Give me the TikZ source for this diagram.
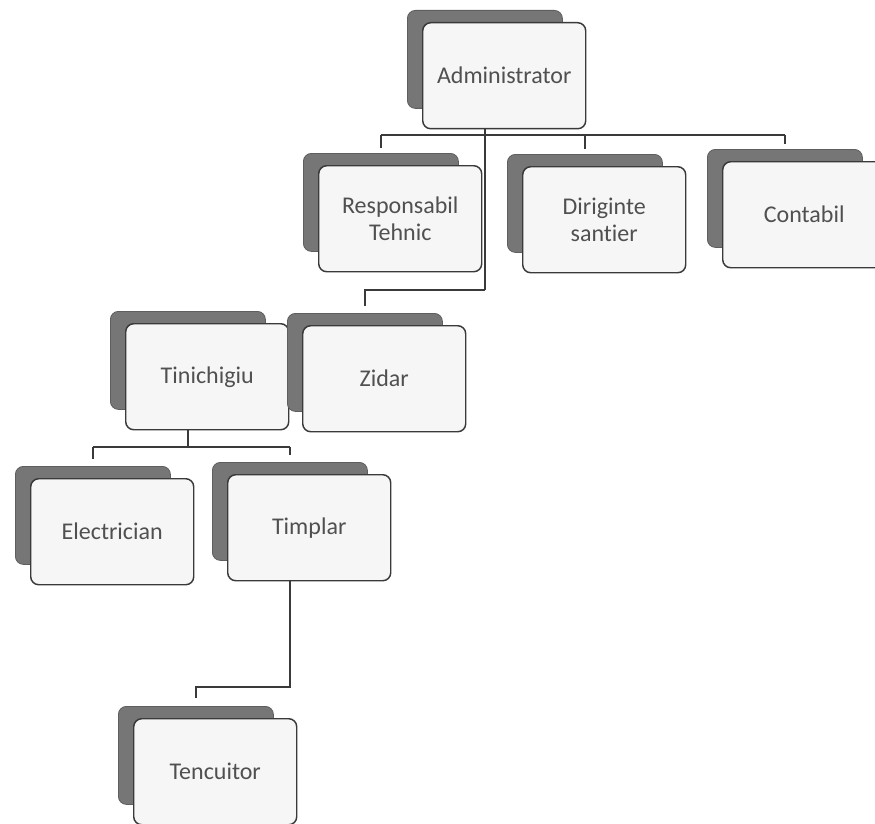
\documentclass[tikz,border=0pt]{standalone}
\usepackage{fontspec}
\setmainfont[Ligatures=NoCommon]{Carlito}
\definecolor{txtc}{HTML}{505050}
\definecolor{backc}{HTML}{767676}
\definecolor{edgec}{HTML}{3A3A3A}
\definecolor{frontc}{HTML}{F6F6F6}
\tikzset{
  backcard/.style={fill=backc, draw=backc!80!black, line width=0.6pt, rounded corners=6pt,
    minimum width=116.25pt, minimum height=73.5pt, inner sep=0pt},
  frontcard/.style={fill=frontc, draw=edgec, line width=1.1pt, rounded corners=6pt,
    minimum width=122.25pt, minimum height=79.5pt, inner sep=2pt, align=center,
    text=txtc, font=\fontsize{18}{20}\selectfont},
  conn/.style={draw=edgec, line width=1.5pt}
}
\newcommand\orgcard[4]{%
  \node[backcard, anchor=north west] (#1b) at ({#2-15},{#3-12}) {};
  \node[frontcard, anchor=north west] (#1) at (#2,#3) {#4};
}
\begin{document}
\begin{tikzpicture}[x=0.75pt,y=-0.75pt]
\useasboundingbox (0,0) rectangle (875,824);
\clip (0,0) rectangle (875,824);
\fill[white] (0,0) rectangle (875,824);
\orgcard{adm}{422}{22}{Administrator}
\orgcard{resp}{318}{165}{Responsabil\\Tehnic}
\orgcard{dir}{522}{166}{Diriginte\\santier}
\orgcard{cont}{722}{161}{Contabil}
\orgcard{tin}{125}{323}{Tinichigiu}
\orgcard{zid}{302}{325}{Zidar}
\orgcard{ele}{30}{478}{Electrician}
\orgcard{tim}{227}{474}{Timplar}
\orgcard{ten}{133}{718}{Tencuitor}
% buses
\coordinate (busA) at (0,135);
\coordinate (busZ) at (0,290);
\coordinate (busT) at (0,447);
\coordinate (busE) at (0,687);
% administrator
\draw[conn] (adm.south -| admb.south) -- (admb.south |- busZ);
\draw[conn] (respb.north |- busA) -- (contb.north |- busA);
\draw[conn, shorten >=4pt] (respb.north |- busA) -- (respb.north);
\draw[conn, shorten >=4pt] (dirb.north |- busA) -- (dirb.north);
\draw[conn, shorten >=4pt] (contb.north |- busA) -- (contb.north);
\draw[conn, shorten >=5pt] (admb.south |- busZ) -| (zidb.north);
% tinichigiu
\draw[conn] (tin.south -| tinb.south) -- (tinb.south |- busT);
\draw[conn] (eleb.north |- busT) -- (timb.north |- busT);
\draw[conn, shorten >=5pt] (eleb.north |- busT) -- (eleb.north);
\draw[conn, shorten >=5pt] (timb.north |- busT) -- (timb.north);
% timplar
\draw[conn, shorten >=6pt] (tim.south -| timb.south) -- (timb.south |- busE) -| (tenb.north);
\end{tikzpicture}
\end{document}
